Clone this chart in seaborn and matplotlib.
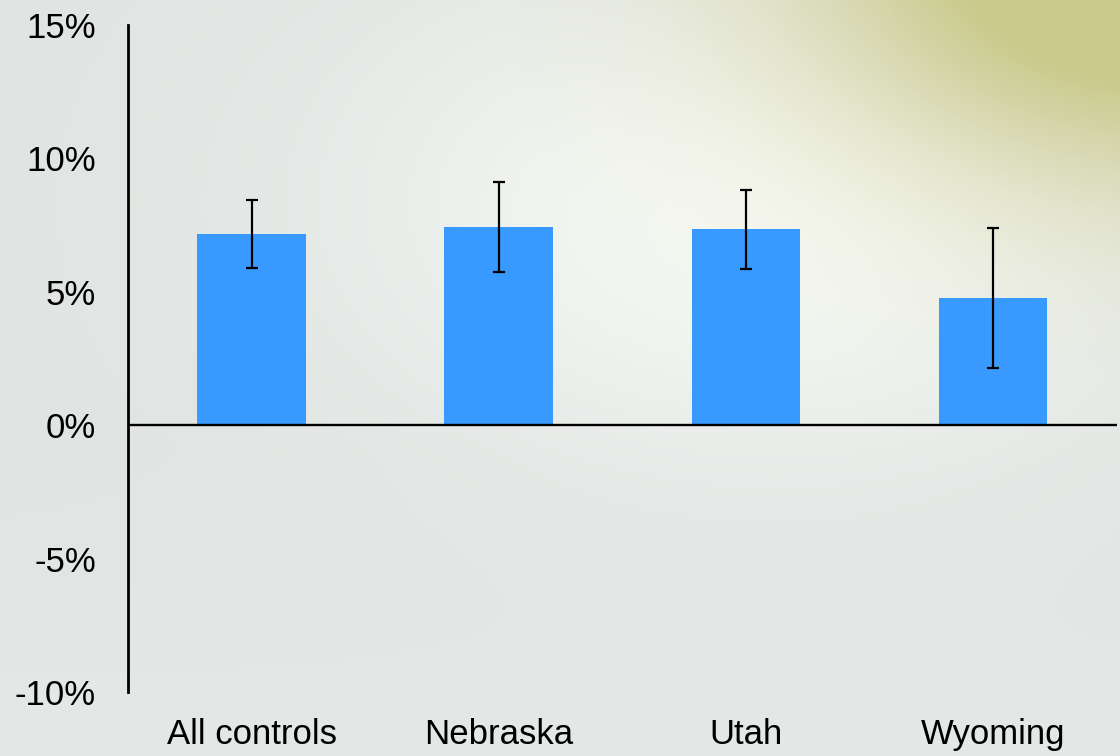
import numpy as np
import pandas as pd
import seaborn as sns
import matplotlib
matplotlib.use("Agg")
import matplotlib.pyplot as plt

# data (percent)
groups = ["All controls", "Nebraska", "Utah", "Wyoming"]
effect = [7.16, 7.42, 7.35, 4.76]
err = [1.27, 1.69, 1.48, 2.62]
yticks = [-10, -5, 0, 5, 10, 15]
ytick_labels = ["-10%", "-5%", "0%", "5%", "10%", "15%"]

sns.set_theme(style="white")
plt.rcParams['font.family'] = ['Liberation Sans', 'DejaVu Sans']

fig = plt.figure(figsize=(11.2, 7.56), dpi=100)

# soft background: light gray with a white glow and a yellow-green corner
h, w = 756, 1120
yy, xx = np.mgrid[0:h, 0:w]
img = np.zeros((h, w, 3))
img[:] = np.array([224, 228, 226]) / 255
glow = np.exp(-(((xx - 780) / 420.0) ** 2 + ((yy - 200) / 260.0) ** 2))
img = img + glow[..., None] * (np.array([248, 250, 246]) / 255 - img)
blob = np.exp(-(((xx - 1180) / 360.0) ** 2 + ((yy + 60) / 230.0) ** 2))
img = img + np.clip(blob * 1.5, 0, 1)[..., None] * (np.array([202, 202, 140]) / 255 - img)
low = np.clip((yy - 450) / 300.0, 0, 1) * 0.5
img = img + low[..., None] * (np.array([232, 236, 236]) / 255 - img)
bg = fig.add_axes([0, 0, 1, 1], zorder=-1)
bg.imshow(img, aspect='auto')
bg.axis('off')

ax = fig.add_axes([0.1143, 0.0847, 0.8827, 0.8823])
ax.patch.set_alpha(0)

df = pd.DataFrame({'group': groups, 'effect': effect})
sns.barplot(data=df, x='group', y='effect', color='#3899FE', saturation=1,
            width=0.44, linewidth=0, ax=ax)
ax.errorbar(range(len(groups)), effect, yerr=err, fmt='none', ecolor='black',
            elinewidth=1.6, capsize=4, capthick=1.6, zorder=3)

ax.axhline(0, color='black', lw=1.7, zorder=4)
ax.set_xlim(-0.5, 3.5)
ax.set_ylim(-10, 15)
ax.set_yticks(yticks)
ax.set_yticklabels(ytick_labels)
ax.set_xlabel('')
ax.set_ylabel('')
ax.tick_params(axis='both', length=0, labelsize=25, colors='black')
ax.tick_params(axis='y', pad=23)
ax.tick_params(axis='x', pad=19)
for s in ['top', 'right', 'bottom']:
    ax.spines[s].set_visible(False)
ax.spines['left'].set_color('black')
ax.spines['left'].set_linewidth(2)

fig.savefig('out.png', dpi=100)
